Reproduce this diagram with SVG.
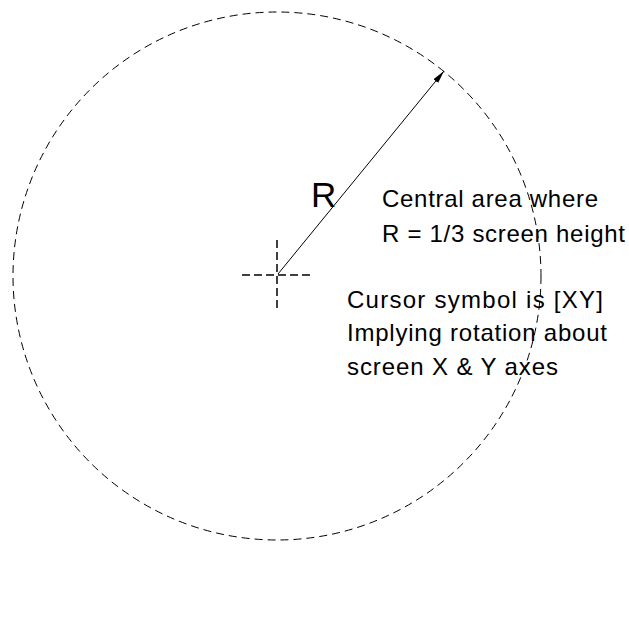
<svg xmlns="http://www.w3.org/2000/svg" width="629" height="626" viewBox="0 0 629 626">
<style>
.dash{fill:none;stroke:#000;stroke-width:1;stroke-dasharray:8 5}
.cross{fill:none;stroke:#000;stroke-width:1.5;stroke-dasharray:8 4}
.lbl{font-family:"Liberation Sans",Arial,sans-serif;font-size:24px;fill:#000}
.big{font-family:"Liberation Sans",Arial,sans-serif;font-size:35px;fill:#000}
</style>
<defs>
<marker id="ah" markerWidth="14" markerHeight="8" refX="13" refY="4" orient="auto" markerUnits="userSpaceOnUse">
<path d="M0,1 L13,4 L0,7 Z" fill="#000"/>
</marker>
</defs>
<rect width="629" height="626" fill="#fff"/>
<g id="area">
<circle class="dash" cx="277" cy="276" r="264"/>
</g>
<g id="cursor">
<line class="cross" x1="242" y1="275" x2="314" y2="275"/>
<line class="cross" x1="277" y1="240" x2="277" y2="311"/>
</g>
<g id="connectors">
<line x1="278" y1="274" x2="444" y2="71" stroke="#000" stroke-width="1" marker-end="url(#ah)"/>
</g>
<g id="labels">
<text class="big" x="311" y="207">R</text>
<text class="lbl" x="382" y="207" textLength="216" lengthAdjust="spacing">Central area where</text>
<text class="lbl" x="382" y="242" textLength="243" lengthAdjust="spacing">R = 1/3 screen height</text>
<text class="lbl" x="347" y="308" textLength="256" lengthAdjust="spacing">Cursor symbol is [XY]</text>
<text class="lbl" x="347" y="341" textLength="260" lengthAdjust="spacing">Implying rotation about</text>
<text class="lbl" x="347" y="375" textLength="211" lengthAdjust="spacing">screen X &amp; Y axes</text>
</g>
</svg>
